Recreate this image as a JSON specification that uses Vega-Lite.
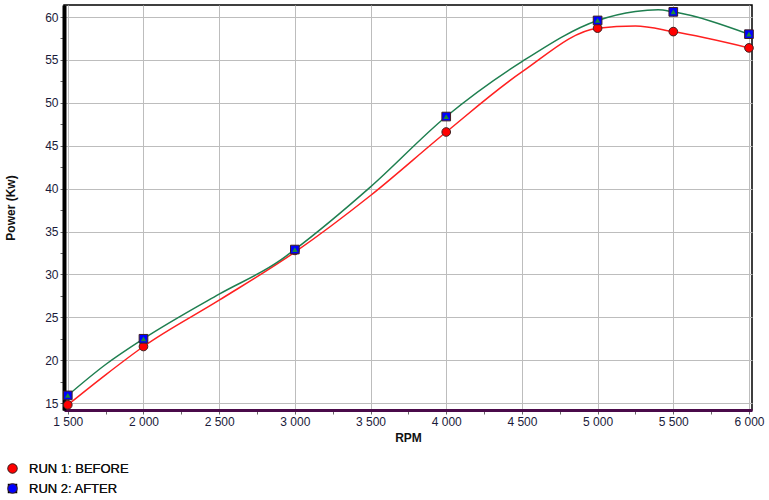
{
  "$schema": "https://vega.github.io/schema/vega-lite/v6.json",
  "width": 688,
  "height": 405,
  "autosize": "none",
  "padding": {"left": 64, "top": 5, "right": 17, "bottom": 90},
  "background": "white",
  "config": {
    "view": {"stroke": "black", "strokeWidth": 1.5},
    "font": "Liberation Sans"
  },
  "datasets": {
    "curve": [
      {"series": "RUN 1: BEFORE", "rpm": 1500, "power": 14.8},
      {"series": "RUN 1: BEFORE", "rpm": 1750, "power": 18.3},
      {"series": "RUN 1: BEFORE", "rpm": 2000, "power": 21.6},
      {"series": "RUN 1: BEFORE", "rpm": 2500, "power": 27.0},
      {"series": "RUN 1: BEFORE", "rpm": 3000, "power": 32.6},
      {"series": "RUN 1: BEFORE", "rpm": 3500, "power": 39.2},
      {"series": "RUN 1: BEFORE", "rpm": 4000, "power": 46.6},
      {"series": "RUN 1: BEFORE", "rpm": 4500, "power": 53.6},
      {"series": "RUN 1: BEFORE", "rpm": 5000, "power": 58.7},
      {"series": "RUN 1: BEFORE", "rpm": 5250, "power": 58.95},
      {"series": "RUN 1: BEFORE", "rpm": 5500, "power": 58.3},
      {"series": "RUN 1: BEFORE", "rpm": 6000, "power": 56.4},
      {"series": "RUN 2: AFTER", "rpm": 1500, "power": 15.9},
      {"series": "RUN 2: AFTER", "rpm": 1750, "power": 19.5},
      {"series": "RUN 2: AFTER", "rpm": 2000, "power": 22.5},
      {"series": "RUN 2: AFTER", "rpm": 2500, "power": 27.7},
      {"series": "RUN 2: AFTER", "rpm": 2900, "power": 31.6},
      {"series": "RUN 2: AFTER", "rpm": 3000, "power": 32.9},
      {"series": "RUN 2: AFTER", "rpm": 3500, "power": 40.2},
      {"series": "RUN 2: AFTER", "rpm": 4000, "power": 48.4},
      {"series": "RUN 2: AFTER", "rpm": 4500, "power": 54.8},
      {"series": "RUN 2: AFTER", "rpm": 5000, "power": 59.6},
      {"series": "RUN 2: AFTER", "rpm": 5250, "power": 60.65},
      {"series": "RUN 2: AFTER", "rpm": 5400, "power": 60.85},
      {"series": "RUN 2: AFTER", "rpm": 5500, "power": 60.6},
      {"series": "RUN 2: AFTER", "rpm": 6000, "power": 58.0}
    ],
    "points": [
      {"run": "RUN 1: BEFORE", "rpm": 1500, "power": 14.8},
      {"run": "RUN 1: BEFORE", "rpm": 2000, "power": 21.6},
      {"run": "RUN 1: BEFORE", "rpm": 3000, "power": 32.8},
      {"run": "RUN 1: BEFORE", "rpm": 4000, "power": 46.6},
      {"run": "RUN 1: BEFORE", "rpm": 5000, "power": 58.7},
      {"run": "RUN 1: BEFORE", "rpm": 5500, "power": 58.3},
      {"run": "RUN 1: BEFORE", "rpm": 6000, "power": 56.4},
      {"run": "RUN 2: AFTER", "rpm": 1500, "power": 15.9},
      {"run": "RUN 2: AFTER", "rpm": 2000, "power": 22.5},
      {"run": "RUN 2: AFTER", "rpm": 3000, "power": 32.9},
      {"run": "RUN 2: AFTER", "rpm": 4000, "power": 48.4},
      {"run": "RUN 2: AFTER", "rpm": 5000, "power": 59.6},
      {"run": "RUN 2: AFTER", "rpm": 5500, "power": 60.6},
      {"run": "RUN 2: AFTER", "rpm": 6000, "power": 58.0}
    ]
  },
  "encoding": {
    "x": {
      "field": "rpm", "type": "quantitative",
      "scale": {"domain": [1475, 6020], "nice": false, "zero": false},
      "axis": {
        "title": "RPM", "titleFontSize": 12, "titleFontWeight": "bold", "titleColor": "#111",
        "titlePadding": 5,
        "values": [1500,1750,2000,2250,2500,2750,3000,3250,3500,3750,4000,4250,4500,4750,5000,5250,5500,5750,6000],
        "labelExpr": "datum.value % 500 === 0 ? replace(format(datum.value, ','), ',', ' ') : ''",
        "labelFontSize": 12, "labelColor": "#1a1a3a", "labelPadding": 2,
        "domainColor": "#4a0a4a", "domainWidth": 3,
        "tickColor": "#666", "tickSize": 4,
        "grid": true, "gridColor": "#bdbdbd",
        "gridOpacity": {"condition": {"test": "datum.value % 500 === 0", "value": 1}, "value": 0}
      }
    },
    "y": {
      "field": "power", "type": "quantitative",
      "scale": {"domain": [14.2, 61.4], "nice": false, "zero": false},
      "axis": {
        "title": "Power (Kw)", "titleFontSize": 12, "titleFontWeight": "bold", "titleColor": "#111",
        "titlePadding": 27,
        "values": [15,17.5,20,22.5,25,27.5,30,32.5,35,37.5,40,42.5,45,47.5,50,52.5,55,57.5,60],
        "labelExpr": "datum.value % 5 === 0 ? datum.value : ''",
        "labelFontSize": 12, "labelColor": "#1a1a3a", "labelPadding": 2,
        "domainColor": "black", "domainWidth": 4,
        "tickColor": "#666", "tickSize": 4,
        "grid": true, "gridColor": "#bdbdbd",
        "gridOpacity": {"condition": {"test": "datum.value % 5 === 0", "value": 1}, "value": 0}
      }
    }
  },
  "layer": [
    {
      "data": {"name": "curve"},
      "mark": {"type": "line", "interpolate": "monotone", "strokeWidth": 1.5},
      "encoding": {
        "stroke": {
          "field": "series", "type": "nominal",
          "scale": {"domain": ["RUN 1: BEFORE", "RUN 2: AFTER"], "range": ["#ff2020", "#1f7f50"]},
          "legend": null
        }
      }
    },
    {
      "data": {"name": "points"},
      "mark": {"type": "point", "filled": true, "stroke": "#402020", "strokeWidth": 1, "opacity": 1, "size": 75},
      "encoding": {
        "fill": {
          "field": "run", "type": "nominal",
          "scale": {"domain": ["RUN 1: BEFORE", "RUN 2: AFTER"], "range": ["#ff0000", "#0000ff"]},
          "legend": {
            "title": null, "orient": "none", "legendX": -58, "legendY": 457,
            "labelFontSize": 13, "labelColor": "#111", "symbolSize": 90, "symbolOpacity": 1,
            "symbolStrokeColor": "#402020", "symbolStrokeWidth": 1, "rowPadding": 5, "labelOffset": 10
          }
        },
        "shape": {
          "field": "run", "type": "nominal",
          "scale": {"domain": ["RUN 1: BEFORE", "RUN 2: AFTER"], "range": ["circle", "square"]},
          "legend": {
            "title": null, "orient": "none", "legendX": -58, "legendY": 457,
            "labelFontSize": 13, "labelColor": "#111", "symbolSize": 90, "symbolOpacity": 1,
            "symbolStrokeColor": "#402020", "symbolStrokeWidth": 1, "rowPadding": 5, "labelOffset": 10
          }
        }
      }
    },
    {
      "data": {"name": "points"},
      "transform": [{"filter": "datum.run === 'RUN 2: AFTER'"}],
      "mark": {"type": "point", "filled": true, "shape": "triangle-up", "size": 30, "color": "#1a8a3a", "opacity": 1}
    }
  ],
  "resolve": {"scale": {"stroke": "independent", "fill": "independent"}}
}
